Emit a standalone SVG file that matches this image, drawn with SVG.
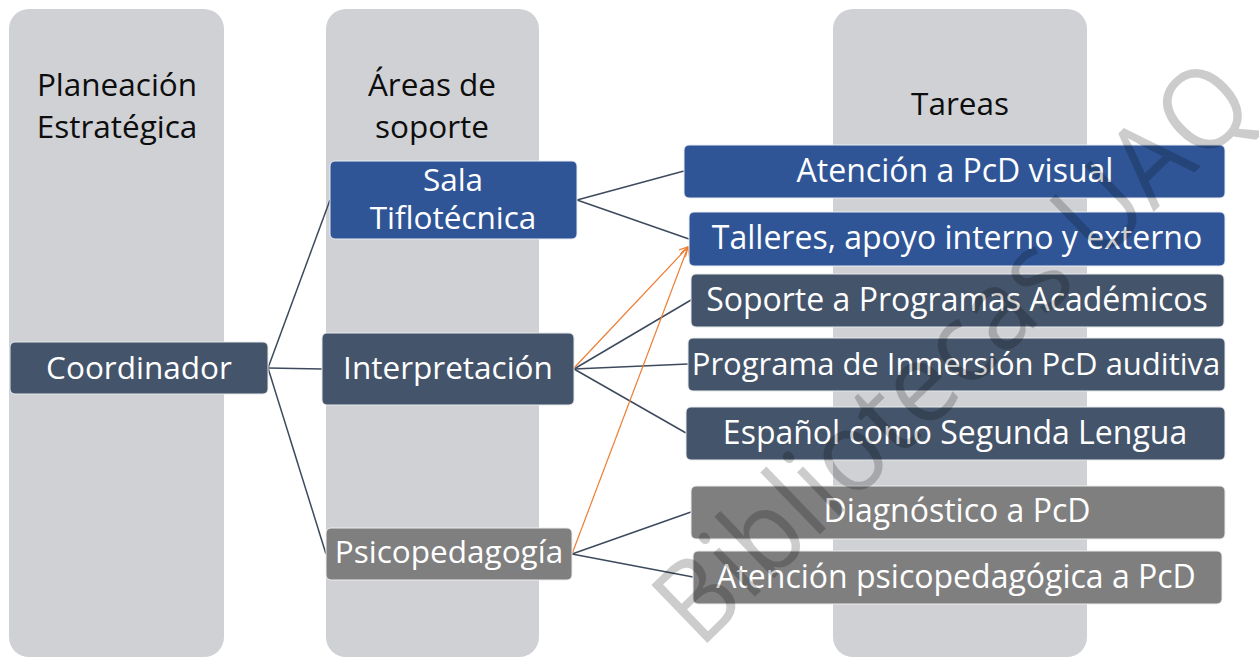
<svg xmlns="http://www.w3.org/2000/svg" width="1259" height="658" viewBox="0 0 1259 658">
<style>
.col{fill:#d0d1d5}
.hdr{font-family:"Open Sans","Liberation Sans",sans-serif;font-size:31.5px;fill:#0d0d0d;text-anchor:middle}
.lbl{font-family:"Open Sans","Liberation Sans",sans-serif;font-size:31.5px;fill:#ffffff;text-anchor:middle}
.tsk{font-size:32px}
.blue{fill:#2f5597;stroke:#e8ecf3;stroke-width:1}
.dark{fill:#44546a;stroke:#e6e8ec;stroke-width:1}
.gray{fill:#7f7f7f;stroke:#ececec;stroke-width:1}
.ln{stroke:#3d4a5e;stroke-width:1.5;fill:none}
.or{stroke:#ed7d31;stroke-width:1.2;fill:none}
.wm{font-family:"Open Sans","Liberation Sans",sans-serif;font-size:113px;fill:#000;fill-opacity:0.2;text-anchor:middle}
</style>
<defs>
<marker id="arr" viewBox="0 0 10 10" refX="9" refY="5" markerWidth="10" markerHeight="10" markerUnits="userSpaceOnUse" orient="auto">
<path d="M0,0 L9,5 L0,10" fill="none" stroke="#ed7d31" stroke-width="1.2"/>
</marker>
</defs>
<g id="columns">
<rect class="col" x="9" y="9" width="215" height="648" rx="20"/>
<rect class="col" x="326" y="9" width="213" height="648" rx="20"/>
<rect class="col" x="833" y="9" width="254" height="648" rx="20"/>
<text class="hdr" x="117" y="96">Planeación<tspan x="117" dy="42">Estratégica</tspan></text>
<text class="hdr" x="432" y="96">Áreas de<tspan x="432" dy="42">soporte</tspan></text>
<text class="hdr" x="960" y="115">Tareas</text>
</g>
<g id="connectors">
<line class="ln" x1="268" y1="368" x2="330" y2="200"/>
<line class="ln" x1="268" y1="368" x2="322" y2="369"/>
<line class="ln" x1="268" y1="368" x2="326" y2="554"/>
<line class="ln" x1="577" y1="200" x2="684" y2="171"/>
<line class="ln" x1="577" y1="200" x2="689" y2="239"/>
<line class="ln" x1="574" y1="369" x2="691" y2="300"/>
<line class="ln" x1="574" y1="369" x2="688" y2="364"/>
<line class="ln" x1="574" y1="369" x2="686" y2="433"/>
<line class="ln" x1="572" y1="554" x2="691" y2="512"/>
<line class="ln" x1="572" y1="554" x2="693" y2="577"/>
<line class="or" x1="574" y1="368" x2="688" y2="247" marker-end="url(#arr)"/>
<line class="or" x1="572" y1="554" x2="688" y2="247" marker-end="url(#arr)"/>
</g>
<g id="coordinador">
<rect class="dark" x="10" y="342" width="258" height="52" rx="5"/>
<text class="lbl" x="139" y="379">Coordinador</text>
</g>
<g id="sala">
<rect class="blue" x="330" y="161" width="247" height="78" rx="5"/>
<text class="lbl" x="453" y="191">Sala<tspan x="453" dy="38">Tiflotécnica</tspan></text>
</g>
<g id="interpretacion">
<rect class="dark" x="322" y="333" width="252" height="72" rx="5"/>
<text class="lbl" x="448" y="379">Interpretación</text>
</g>
<g id="psicopedagogia">
<rect class="gray" x="326" y="528" width="246" height="52" rx="5"/>
<text class="lbl" x="449" y="563">Psicopedagogía</text>
</g>
<g id="t1">
<rect class="blue" x="684" y="145" width="541" height="53" rx="5"/>
<text class="lbl tsk" x="955" y="182">Atención a PcD visual</text>
</g>
<g id="t2">
<rect class="blue" x="689" y="212" width="536" height="54" rx="5"/>
<text class="lbl tsk" x="957" y="249">Talleres, apoyo interno y externo</text>
</g>
<g id="t3">
<rect class="dark" x="691" y="274" width="533" height="53" rx="5"/>
<text class="lbl tsk" x="957" y="311">Soporte a Programas Académicos</text>
</g>
<g id="t4">
<rect class="dark" x="688" y="338" width="537" height="53" rx="5"/>
<text class="lbl" style="font-size:31px" x="956" y="375">Programa de Inmersión PcD auditiva</text>
</g>
<g id="t5">
<rect class="dark" x="686" y="407" width="539" height="53" rx="5"/>
<text class="lbl tsk" x="955" y="444">Español como Segunda Lengua</text>
</g>
<g id="t6">
<rect class="gray" x="691" y="486" width="534" height="53" rx="5"/>
<text class="lbl tsk" x="957" y="522">Diagnóstico a PcD</text>
</g>
<g id="t7">
<rect class="gray" x="693" y="551" width="529" height="53" rx="5"/>
<text class="lbl tsk" x="956" y="588">Atención psicopedagógica a PcD</text>
</g>
<g id="watermark">
<text class="wm" x="0" y="40" transform="translate(952 351) rotate(-44) scale(0.925 1)">Bibliotecas UAQ</text>
</g>
</svg>
